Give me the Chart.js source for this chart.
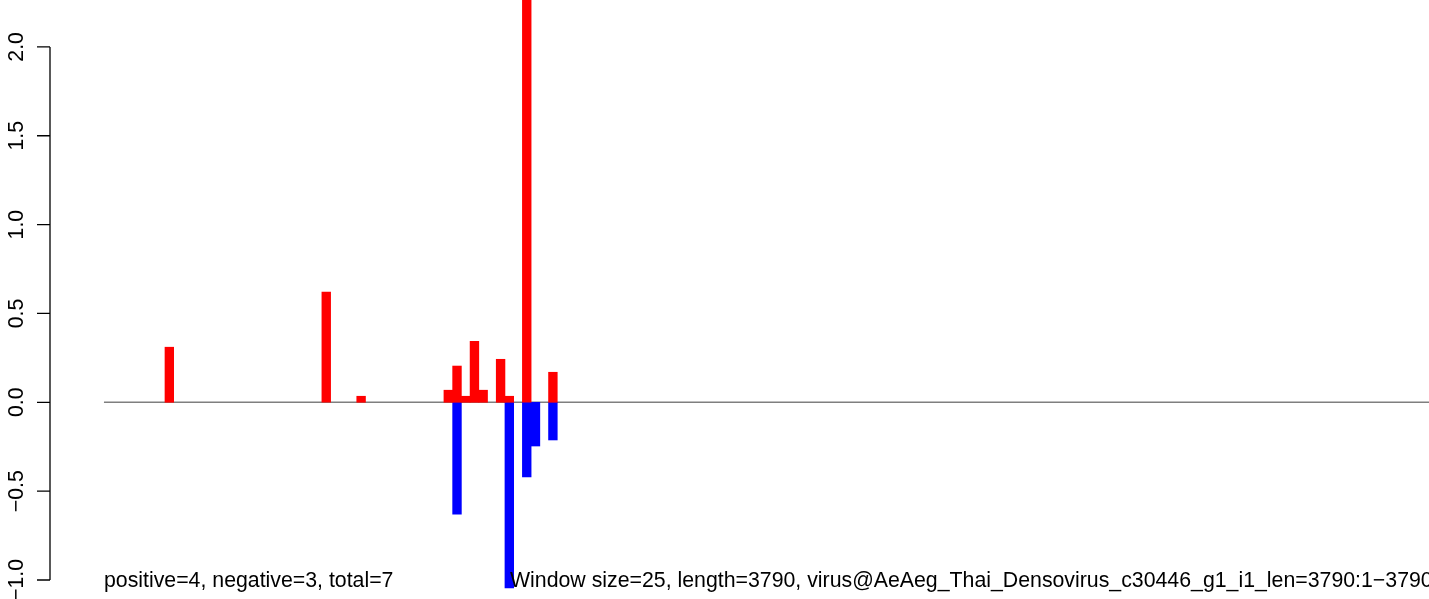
<!DOCTYPE html>
<html>
<head>
<meta charset="utf-8">
<script src="https://cdn.jsdelivr.net/npm/chart.js@4/dist/chart.umd.min.js"></script>
<style>
  html, body { margin: 0; padding: 0; background: #fff; overflow: hidden; }
  #wrap { width: 1429px; height: 599px; }
</style>
</head>
<body>
<div id="wrap"><canvas id="plot" width="1429" height="599"></canvas></div>
<script>
// windows of 25 nt over a 3790 nt sequence -> 152 bins (index 0..151)
const binCount = 152;

// positive strand bins (red) and their values
const posBins   = [7, 25, 29, 39, 40, 41, 42, 43, 45, 46, 48, 51];
const posValues = [0.31, 0.62, 0.034, 0.068, 0.204, 0.034, 0.343, 0.068, 0.242, 0.034, 2.6, 0.169];

// negative strand bins (blue) and their values
const negBins   = [40, 46, 48, 49, 51];
const negValues = [-0.63, -1.045, -0.42, -0.246, -0.212];

const yTicks = [-1.0, -0.5, 0.0, 0.5, 1.0, 1.5, 2.0];
const leftNote  = 'positive=4, negative=3, total=7';
const rightNote = 'Window size=25, length=3790, virus@AeAeg_Thai_Densovirus_c30446_g1_i1_len=3790:1\u22123790';

const FONT = '21.3px "Liberation Sans", Arial, Helvetica, sans-serif';

function fmtTick(v) {
    const s = Math.abs(v).toFixed(1);
    return v < 0 ? '\u2212' + s : s;
}

// R-style axis, zero line and notes
const rStyle = {
    id: 'rStyle',
    beforeDatasetsDraw(chart) {
        const { ctx, scales: { x, y } } = chart;
        ctx.save();
        ctx.strokeStyle = '#7f7f7f';
        ctx.lineWidth = 1.5;
        ctx.beginPath();
        ctx.moveTo(x.getPixelForValue(-0.5), y.getPixelForValue(0));
        ctx.lineTo(x.getPixelForValue(binCount - 0.5), y.getPixelForValue(0));
        ctx.stroke();
        ctx.restore();
    },
    afterDraw(chart) {
        const { ctx, chartArea, scales: { x, y } } = chart;
        const ax = chartArea.left;
        ctx.save();
        ctx.strokeStyle = '#000';
        ctx.lineWidth = 1.3;
        ctx.beginPath();
        ctx.moveTo(ax, y.getPixelForValue(yTicks[0]));
        ctx.lineTo(ax, y.getPixelForValue(yTicks[yTicks.length - 1]));
        yTicks.forEach(v => {
            const py = y.getPixelForValue(v);
            ctx.moveTo(ax - 13, py);
            ctx.lineTo(ax, py);
        });
        ctx.stroke();

        ctx.fillStyle = '#000';
        ctx.font = FONT;
        ctx.textAlign = 'center';
        ctx.textBaseline = 'alphabetic';
        yTicks.forEach(v => {
            ctx.save();
            ctx.translate(ax - 27, y.getPixelForValue(v));
            ctx.rotate(-Math.PI / 2);
            ctx.fillText(fmtTick(v), 0, 0);
            ctx.restore();
        });

        ctx.textAlign = 'left';
        ctx.fillText(leftNote, x.getPixelForValue(-0.5), 587);
        ctx.fillText(rightNote, 510, 587);
        ctx.restore();
    }
};

const ctx = document.getElementById('plot').getContext('2d');
new Chart(ctx, {
    type: 'bar',
    data: {
        datasets: [
            {
                label: 'positive',
                data: posBins.map((b, i) => ({ x: b, y: posValues[i] })),
                backgroundColor: '#ff0000',
                borderWidth: 0,
                grouped: false,
                barPercentage: 1,
                categoryPercentage: 1
            },
            {
                label: 'negative',
                data: negBins.map((b, i) => ({ x: b, y: negValues[i] })),
                backgroundColor: '#0000ff',
                borderWidth: 0,
                grouped: false,
                barPercentage: 1,
                categoryPercentage: 1
            }
        ]
    },
    options: {
        responsive: false,
        animation: false,
        devicePixelRatio: 1,
        layout: { padding: { left: 50, right: 0, top: 0, bottom: 0 } },
        plugins: { legend: { display: false }, tooltip: { enabled: false } },
        scales: {
            x: {
                type: 'linear',
                display: false,
                min: -6.69,
                max: 151.5,
                offset: false,
                ticks: { stepSize: 25 },
                grid: { display: false }
            },
            y: {
                display: false,
                min: -1.107,
                max: 2.264,
                grid: { display: false }
            }
        }
    },
    plugins: [rStyle]
});
</script>
</body>
</html>
